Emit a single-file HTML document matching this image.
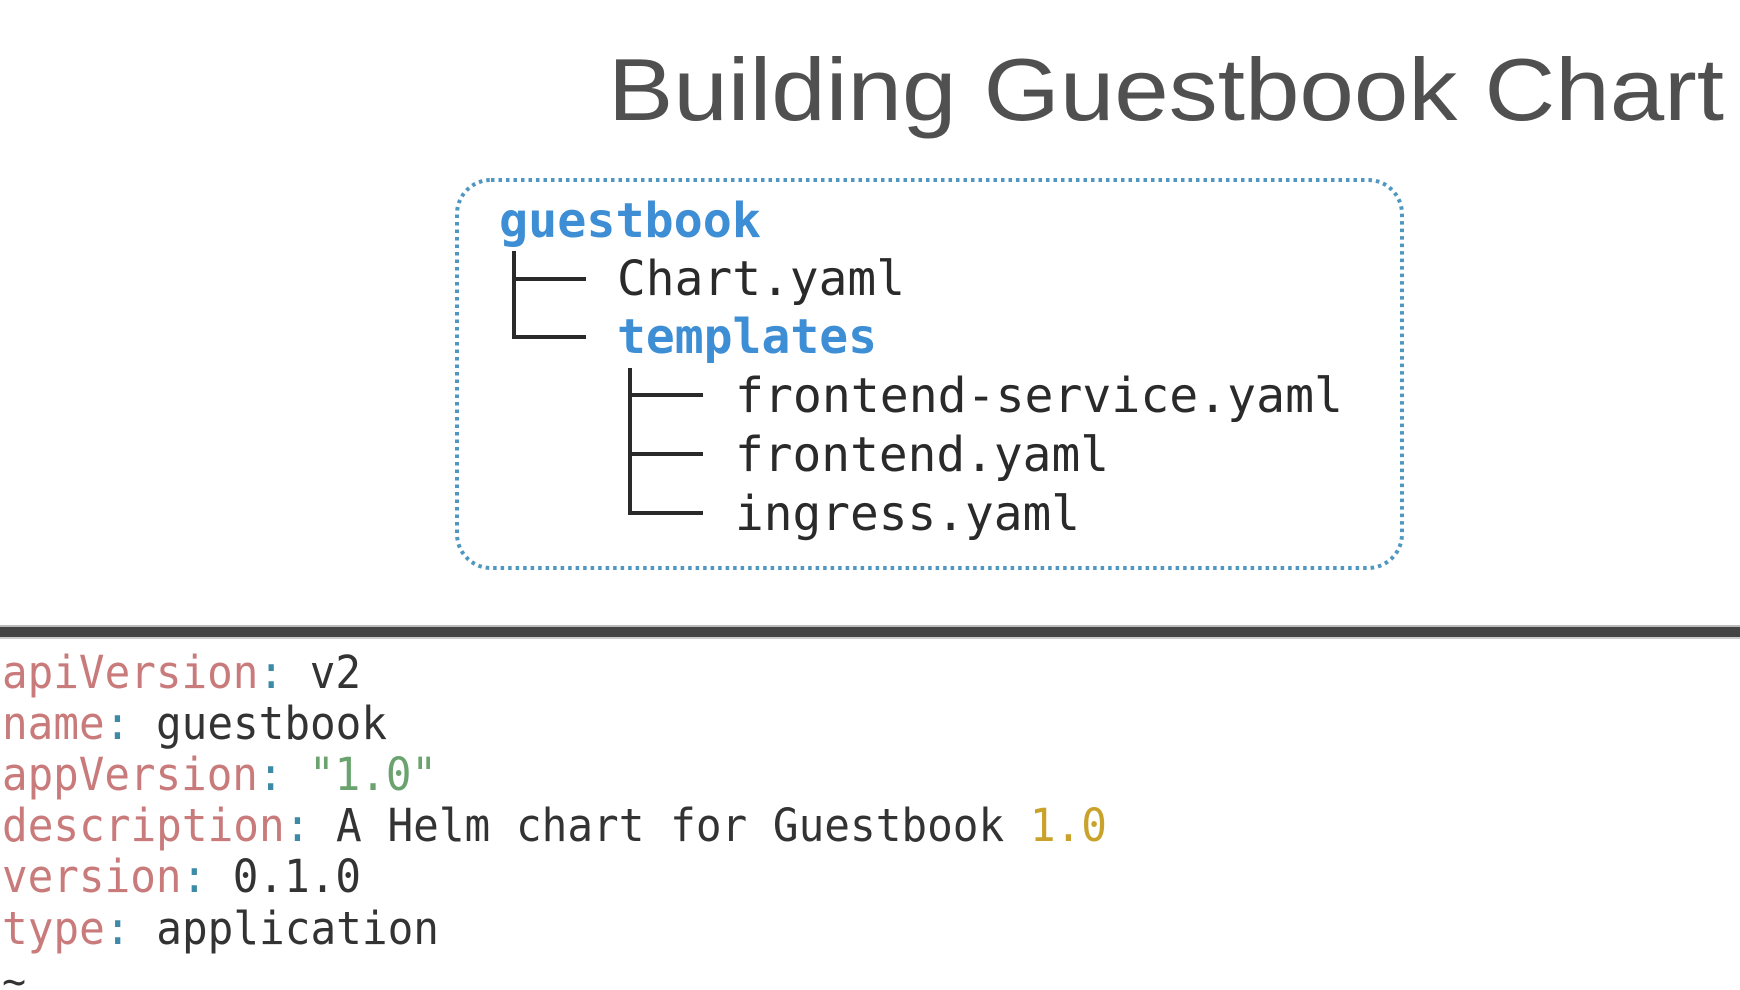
<!DOCTYPE html>
<html><head><meta charset="utf-8"><style>
html,body{margin:0;padding:0;background:#fff;}
svg{display:block;}
</style></head><body>
<svg width="1740" height="990" viewBox="0 0 1740 990" xmlns="http://www.w3.org/2000/svg">
<rect width="1740" height="990" fill="#fff"/>
<text x="608" y="120" font-family="Liberation Sans, sans-serif" font-size="88" fill="#505050" textLength="1116" lengthAdjust="spacingAndGlyphs">Building Guestbook Chart</text>
<rect x="457" y="180" width="945" height="388" rx="34" ry="34" fill="none" stroke="#4f97c0" stroke-width="4" stroke-dasharray="3.5 4"/>
<g font-family="DejaVu Sans Mono, Liberation Mono, monospace" font-size="48">
<text x="499" y="237" fill="#3d8ed4" font-weight="bold" textLength="262" lengthAdjust="spacingAndGlyphs">guestbook</text>
<text x="617" y="295" fill="#2a2a2a" textLength="288" lengthAdjust="spacingAndGlyphs">Chart.yaml</text>
<text x="617" y="353" fill="#3d8ed4" font-weight="bold" textLength="260" lengthAdjust="spacingAndGlyphs">templates</text>
<text x="735" y="412" fill="#2a2a2a" textLength="608" lengthAdjust="spacingAndGlyphs">frontend-service.yaml</text>
<text x="735" y="471" fill="#2a2a2a" textLength="374" lengthAdjust="spacingAndGlyphs">frontend.yaml</text>
<text x="735" y="530" fill="#2a2a2a" textLength="345" lengthAdjust="spacingAndGlyphs">ingress.yaml</text>
</g>
<g stroke="#2a2a2a" stroke-width="4" fill="none">
<path d="M514 251 V337 H586 M514 279 H586"/>
<path d="M630 368 V513 H703 M630 395 H703 M630 454 H703"/>
</g>
<rect x="0" y="625" width="1740" height="2" fill="#bbb"/>
<rect x="0" y="627" width="1740" height="10" fill="#444"/>
<rect x="0" y="637" width="1740" height="2" fill="#ccc"/>
<g font-family="DejaVu Sans Mono, Liberation Mono, monospace" font-size="45">
<text x="2" y="688" textLength="359" lengthAdjust="spacingAndGlyphs"><tspan fill="#c97b7b">apiVersion</tspan><tspan fill="#3d8aa6">:</tspan><tspan fill="#333"> v2</tspan></text>
<text x="2" y="739" textLength="385" lengthAdjust="spacingAndGlyphs"><tspan fill="#c97b7b">name</tspan><tspan fill="#3d8aa6">:</tspan><tspan fill="#333"> guestbook</tspan></text>
<text x="2" y="790" textLength="435" lengthAdjust="spacingAndGlyphs"><tspan fill="#c97b7b">appVersion</tspan><tspan fill="#3d8aa6">:</tspan><tspan fill="#6aa36e"> "1.0"</tspan></text>
<text x="2" y="841" textLength="1105" lengthAdjust="spacingAndGlyphs"><tspan fill="#c97b7b">description</tspan><tspan fill="#3d8aa6">:</tspan><tspan fill="#333"> A Helm chart for Guestbook </tspan><tspan fill="#c9a22c">1.0</tspan></text>
<text x="2" y="892" textLength="359" lengthAdjust="spacingAndGlyphs"><tspan fill="#c97b7b">version</tspan><tspan fill="#3d8aa6">:</tspan><tspan fill="#333"> 0.1.0</tspan></text>
<text x="2" y="944" textLength="437" lengthAdjust="spacingAndGlyphs"><tspan fill="#c97b7b">type</tspan><tspan fill="#3d8aa6">:</tspan><tspan fill="#333"> application</tspan></text>
<text x="2" y="995" fill="#333" font-size="40">~</text>
</g>
</svg>
</body></html>
